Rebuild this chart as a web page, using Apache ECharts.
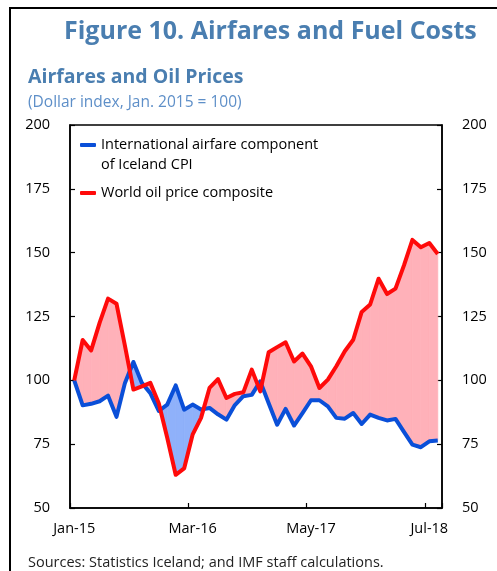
<!DOCTYPE html>
<html>
<head>
<meta charset="utf-8">
<script src="https://cdn.jsdelivr.net/npm/echarts@6/dist/echarts.min.js"></script>
<style>
  html, body { margin: 0; padding: 0; background: #fff; }
  #chart { width: 497px; height: 571px; }
</style>
</head>
<body>
<div id="chart"></div>
<script>
// monthly, Jan-15 .. Aug-18
var months = [
  'Jan-15', 'Feb-15', 'Mar-15', 'Apr-15', 'May-15', 'Jun-15', 'Jul-15', 'Aug-15', 'Sep-15', 'Oct-15', 'Nov-15', 'Dec-15',
  'Jan-16', 'Feb-16', 'Mar-16', 'Apr-16', 'May-16', 'Jun-16', 'Jul-16', 'Aug-16', 'Sep-16', 'Oct-16', 'Nov-16', 'Dec-16',
  'Jan-17', 'Feb-17', 'Mar-17', 'Apr-17', 'May-17', 'Jun-17', 'Jul-17', 'Aug-17', 'Sep-17', 'Oct-17', 'Nov-17', 'Dec-17',
  'Jan-18', 'Feb-18', 'Mar-18', 'Apr-18', 'May-18', 'Jun-18', 'Jul-18', 'Aug-18'
]
var airfare = [
  100, 90.2, 90.8, 91.8, 94, 85.7, 99, 107.2, 99, 95, 88, 90.5,
  98, 88.5, 90.5, 88.6, 89.2, 86.7, 84.6, 90.3, 93.8, 94.3, 99.6, 91,
  82.6, 88.8, 82.3, 87.2, 92.2, 92.2, 89.8, 85.3, 85, 87.2, 82.9, 86.6,
  85.3, 84.3, 84.9, 79.8, 74.8, 73.8, 76.1, 76.4
]
var oil = [
  100, 115.8, 111.7, 122.5, 132, 130, 113.5, 96.4, 97.6, 99, 91, 77.5,
  63, 65.5, 78.7, 85.3, 97, 100.5, 93.1, 94.7, 95.3, 104.2, 95.7, 111,
  113, 114.9, 107.4, 110.5, 105.5, 97, 100.3, 105.5, 111.4, 115.9, 126.8, 129.7,
  139.8, 133.8, 135.9, 145, 155, 152.1, 153.8, 149.5
]
var yTicks = [50, 75, 100, 125, 150, 175, 200]

var nameAir = 'International airfare component\nof Iceland CPI'
var nameOil = 'World oil price composite'
var font = 'Open Sans'

var chart = echarts.init(document.getElementById('chart'))

// fills the gap between the two lines, pink where oil is above, blue where airfare is above
function renderFill (params, api) {
  var i = api.value(0)
  var r0 = api.coord([i, oil[i]])
  var r1 = api.coord([i + 1, oil[i + 1]])
  var b0 = api.coord([i, airfare[i]])
  var b1 = api.coord([i + 1, airfare[i + 1]])
  var d0 = oil[i] - airfare[i]
  var d1 = oil[i + 1] - airfare[i + 1]
  var pink = '#ffb1b9'
  var blue = '#8fb1fa'
  var polys = []
  if (d0 * d1 >= 0) {
    polys.push({ pts: [r0, r1, b1, b0], color: (d0 + d1 >= 0) ? pink : blue })
  } else {
    var t = d0 / (d0 - d1)
    var p = [r0[0] + (r1[0] - r0[0]) * t, r0[1] + (r1[1] - r0[1]) * t]
    polys.push({ pts: [r0, p, b0], color: d0 > 0 ? pink : blue })
    polys.push({ pts: [p, r1, b1], color: d1 > 0 ? pink : blue })
  }
  return {
    type: 'group',
    children: polys.map(function (pl) {
      return {
        type: 'polygon',
        shape: { points: pl.pts },
        style: { fill: pl.color, stroke: pl.color, lineWidth: 0.8 }
      }
    })
  }
}

var yAxisBase = {
  type: 'value',
  min: 50,
  max: 200,
  interval: 25,
  axisLine: { show: true, lineStyle: { color: '#000', width: 1.5 } },
  axisTick: { show: true, inside: true, length: 5, lineStyle: { color: '#000', width: 1.2 } },
  axisLabel: { color: '#000', fontSize: 14.5, fontFamily: font, margin: 20,
    formatter: function (v) { return yTicks.indexOf(v) >= 0 ? String(v) : '' } },
  splitLine: { show: false }
}

var option = {
  animation: false,
  backgroundColor: '#fff',
  graphic: [
    {
      type: 'rect',
      shape: { x: 10, y: 8, width: 600, height: 700 },
      style: { fill: 'none', stroke: '#000', lineWidth: 2 }
    }
  ],
  title: [
    {
      text: 'Figure 10. Airfares and Fuel Costs',
      left: 64,
      top: 19,
      padding: 0,
      textStyle: { color: '#4a7eb0', fontSize: 25, fontWeight: 'bold', fontFamily: font }
    },
    {
      text: 'Airfares and Oil Prices',
      left: 28,
      top: 67,
      padding: 0,
      textStyle: { color: '#4a7eb0', fontSize: 19.5, fontWeight: 'bold', fontFamily: font }
    },
    {
      text: '(Dollar index, Jan. 2015 = 100)',
      left: 28,
      top: 95,
      padding: 0,
      textStyle: { color: '#5e8fc8', fontSize: 15.5, fontWeight: 'normal', fontFamily: font }
    },
    {
      text: 'Sources: Statistics Iceland; and IMF staff calculations.',
      left: 28,
      top: 555,
      padding: 0,
      textStyle: { color: '#222', fontSize: 14.5, fontWeight: 'normal', fontFamily: font }
    }
  ],
  legend: [
    {
      data: [{ name: nameAir, icon: 'roundRect' }],
      // empty first line so the icon sits beside the first text line
      formatter: function (name) { return '\n' + name },
      left: 80,
      top: 115,
      padding: 0,
      itemWidth: 16,
      itemHeight: 4,
      selectedMode: false,
      textStyle: { color: '#000', fontSize: 14.5, fontFamily: font, lineHeight: 20 }
    },
    {
      data: [{ name: nameOil, icon: 'roundRect' }],
      left: 80,
      top: 183,
      padding: 0,
      itemWidth: 16,
      itemHeight: 4,
      selectedMode: false,
      textStyle: { color: '#000', fontSize: 14.5, fontFamily: font, lineHeight: 20 }
    }
  ],
  grid: {
    left: 70,
    right: 55,
    top: 125,
    bottom: 63,
    show: true,
    borderColor: '#000',
    borderWidth: 1.5
  },
  xAxis: {
    type: 'category',
    data: months,
    boundaryGap: true,
    axisLine: { lineStyle: { color: '#000', width: 1.5 } },
    axisTick: { show: true, inside: true, length: 5, interval: 13, lineStyle: { color: '#000', width: 1.2 } },
    axisLabel: { interval: 13, color: '#000', fontSize: 14.5, fontFamily: font, margin: 13 },
    splitLine: { show: false }
  },
  yAxis: [
    Object.assign({}, yAxisBase, { position: 'left' }),
    Object.assign({}, yAxisBase, { position: 'right' })
  ],
  series: [
    {
      type: 'custom',
      name: 'gap',
      renderItem: renderFill,
      data: oil.slice(0, -1).map(function (v, i) { return [i, v] }),
      encode: { x: 0, y: 1 },
      z: 1,
      silent: true
    },
    {
      type: 'line',
      name: nameAir,
      data: airfare,
      symbol: 'none',
      color: '#0a4fd8',
      lineStyle: { color: '#0a4fd8', width: 4, join: 'round' },
      z: 3
    },
    {
      type: 'line',
      name: nameOil,
      data: oil,
      symbol: 'none',
      color: '#ff0a0a',
      lineStyle: { color: '#ff0a0a', width: 4, join: 'round' },
      z: 4
    }
  ]
}

chart.setOption(option)
</script>
</body>
</html>
